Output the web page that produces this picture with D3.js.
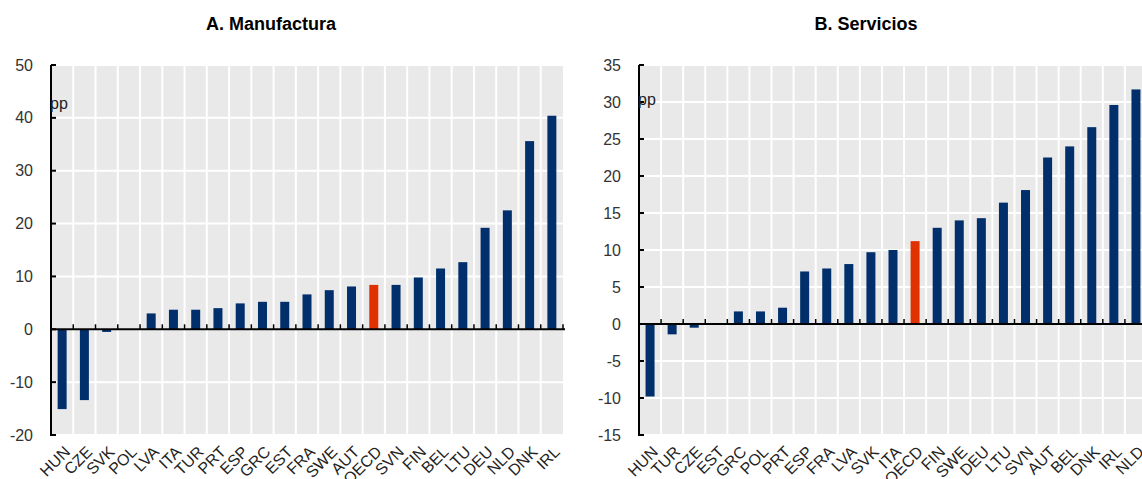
<!DOCTYPE html>
<html>
<head>
<meta charset="utf-8">
<script src="https://cdn.jsdelivr.net/npm/d3@7"></script>
<style>
  html, body { margin: 0; padding: 0; background: #fff; }
  svg { display: block; font-family: "Liberation Sans", Arial, sans-serif; }
</style>
</head>
<body>
<svg id="chart" width="1142" height="479"></svg>
<script>
// Panel A: manufacturing, change in pp
const manufCountries = ["HUN","CZE","SVK","POL","LVA","ITA","TUR","PRT","ESP","GRC","EST","FRA","SWE","AUT","OECD","SVN","FIN","BEL","LTU","DEU","NLD","DNK","IRL"];
const manufValues = [-15.1,-13.4,-0.5,0,3.0,3.7,3.7,4.0,4.9,5.2,5.2,6.6,7.4,8.1,8.4,8.4,9.8,11.5,12.7,19.2,22.5,35.6,40.4];
const manufTicks = [-20,-10,0,10,20,30,40,50];

// Panel B: services, change in pp
const servCountries = ["HUN","TUR","CZE","EST","GRC","POL","PRT","ESP","FRA","LVA","SVK","ITA","OECD","FIN","SWE","DEU","LTU","SVN","AUT","BEL","DNK","IRL","NLD"];
const servValues = [-9.8,-1.4,-0.5,0,1.7,1.7,2.2,7.1,7.5,8.1,9.7,10.0,11.2,13.0,14.0,14.3,16.4,18.1,22.5,24.0,26.6,29.6,31.7];
const servTicks = [-15,-10,-5,0,5,10,15,20,25,30,35];

const titles = ["A. Manufactura", "B. Servicios"];
const unitLabel = "pp";

const NAVY = "#002f6c", RED = "#e03200", BG = "#e9e9e9";
const svg = d3.select("#chart");

function panel(cfg) {
  const { left, right, top, bottom, cats, vals, ticks, title, titleX, unitY } = cfg;
  const g = svg.append("g");

  const x = d3.scaleBand().domain(cats).range([left, right]).paddingInner(0).paddingOuter(0);
  const y = d3.scaleLinear().domain([ticks[0], ticks[ticks.length - 1]]).range([bottom, top]);

  // plot background
  g.append("rect").attr("x", left).attr("y", top)
    .attr("width", right - left).attr("height", bottom - top).attr("fill", BG);

  // horizontal grid
  g.selectAll(".hg").data(ticks).join("line")
    .attr("x1", left).attr("x2", right)
    .attr("y1", d => y(d)).attr("y2", d => y(d))
    .attr("stroke", "#fff").attr("stroke-width", 2);

  // vertical grid at band boundaries
  const bounds = cats.slice(1).map(c => x(c));
  g.selectAll(".vg").data(bounds).join("line")
    .attr("x1", d => d).attr("x2", d => d)
    .attr("y1", top).attr("y2", bottom)
    .attr("stroke", "#fff").attr("stroke-width", 2);

  // bars
  const bw = 9;
  g.selectAll(".bar").data(cats.map((c, i) => ({ c, v: vals[i] }))).join("rect")
    .attr("x", d => x(d.c) + x.bandwidth() / 2 - bw / 2)
    .attr("width", bw)
    .attr("y", d => y(Math.max(0, d.v)))
    .attr("height", d => Math.abs(y(d.v) - y(0)))
    .attr("fill", d => d.c === "OECD" ? RED : NAVY);

  // zero line with inward ticks at band boundaries
  g.append("line").attr("x1", left).attr("x2", right + 2)
    .attr("y1", y(0)).attr("y2", y(0))
    .attr("stroke", "#000").attr("stroke-width", 2);
  g.selectAll(".xt").data(bounds.concat([right])).join("line")
    .attr("x1", d => d).attr("x2", d => d)
    .attr("y1", y(0)).attr("y2", y(0) - 5)
    .attr("stroke", "#000").attr("stroke-width", 1.5);

  // y axis line and ticks
  g.append("line").attr("x1", left).attr("x2", left)
    .attr("y1", top).attr("y2", bottom + 1)
    .attr("stroke", "#000").attr("stroke-width", 2);
  g.selectAll(".yt").data(ticks).join("line")
    .attr("x1", left).attr("x2", left + 5)
    .attr("y1", d => y(d)).attr("y2", d => y(d))
    .attr("stroke", "#000").attr("stroke-width", 2);
  g.selectAll(".yl").data(ticks).join("text")
    .attr("x", left - 18).attr("y", d => y(d))
    .attr("dy", "0.35em").attr("text-anchor", "end")
    .attr("font-size", 16).attr("fill", "#333")
    .text(d => d);

  // unit label
  g.append("text").attr("x", left - 1).attr("y", unitY)
    .attr("font-size", 16).attr("fill", "#222").text(unitLabel);

  // category labels, rotated
  g.selectAll(".xl").data(cats).join("text")
    .attr("transform", d => `translate(${x(d) + x.bandwidth() / 2 + 1},${bottom + 10}) rotate(-45)`)
    .attr("text-anchor", "end").attr("dy", "0.7em")
    .attr("font-size", 16).attr("fill", "#222")
    .text(d => d);

  // title
  g.append("text").attr("x", titleX).attr("y", 30)
    .attr("text-anchor", "middle").attr("font-size", 18).attr("font-weight", "bold")
    .attr("fill", "#000").text(title);
}

panel({ left: 51, right: 563, top: 65, bottom: 435, cats: manufCountries, vals: manufValues, ticks: manufTicks, title: titles[0], titleX: 271, unitY: 109 });
panel({ left: 639, right: 1147, top: 65, bottom: 435, cats: servCountries, vals: servValues, ticks: servTicks, title: titles[1], titleX: 866, unitY: 105 });
</script>
</body>
</html>
